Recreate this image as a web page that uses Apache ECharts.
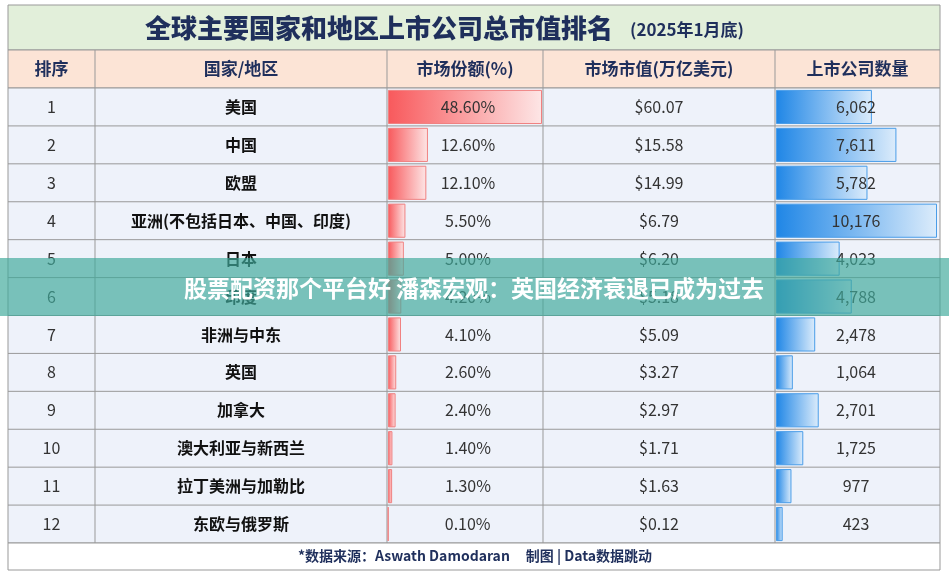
<!DOCTYPE html>
<html><head><meta charset="utf-8">
<script src="https://cdn.jsdelivr.net/npm/echarts@6/dist/echarts.min.js"></script>
<style>html,body{margin:0;padding:0;background:#fff}#c{width:949px;height:575px}</style>
</head><body><div id="c"></div>
<script>
const ranks = ['1','2','3','4','5','6','7','8','9','10','11','12'];
const regions = ['美国','中国','欧盟','亚洲(不包括日本、中国、印度)','日本','印度','非洲与中东','英国','加拿大','澳大利亚与新西兰','拉丁美洲与加勒比','东欧与俄罗斯'];
const shares = [48.6,12.6,12.1,5.5,5.0,4.2,4.1,2.6,2.4,1.4,1.3,0.1];
const caps = [60.07,15.58,14.99,6.79,6.20,5.18,5.09,3.27,2.97,1.71,1.63,0.12];
const counts = [6062,7611,5782,10176,4023,4788,2478,1064,2701,1725,977,423];
const headers = ['排序','国家/地区','市场份额(%)','市场市值(万亿美元)','上市公司数量'];

const colX = [8,95,387,543,775,940];
const tableTop = 88, tableBottom = 543, rowH = (tableBottom - tableTop) / 12;
const font = '"Noto Sans CJK SC", sans-serif';
const g = [];
g.push({type:'rect',shape:{x:colX[0],y:5,width:colX[5]-colX[0],height:45},style:{fill:'#e2efda',stroke:'#999'}});
g.push({type:'text',x:145,y:28,style:{text:'全球主要国家和地区上市公司总市值排名',fill:'#1f2f5c',font:'900 26px '+font,verticalAlign:'middle'}});
g.push({type:'text',x:630,y:30,style:{text:'(2025年1月底)',fill:'#1f2f5c',font:'bold 17px '+font,verticalAlign:'middle'}});
g.push({type:'rect',shape:{x:colX[0],y:50,width:colX[5]-colX[0],height:tableTop-50},style:{fill:'#fce4d6',stroke:'#999'}});
g.push({type:'rect',shape:{x:colX[0],y:tableTop,width:colX[5]-colX[0],height:tableBottom-tableTop},style:{fill:'#eef2fa',stroke:'#999'}});
g.push({type:'rect',shape:{x:colX[0],y:tableBottom,width:colX[5]-colX[0],height:27},style:{fill:'#fff',stroke:'#999'}});
headers.forEach((h,i)=>{
  const cx=(colX[i]+colX[i+1])/2;
  g.push({type:'text',x:cx,y:69,style:{text:h,fill:'#1f2f5c',font:'bold 17px '+font,align:'center',verticalAlign:'middle'}});
});
for(let i=1;i<5;i++) g.push({type:'line',shape:{x1:colX[i],y1:50,x2:colX[i],y2:tableBottom},style:{stroke:'#999',lineWidth:1}});
ranks.forEach((r,i)=>{
  const cy=tableTop+rowH*(i+0.5);
  if(i>0) g.push({type:'line',shape:{x1:colX[0],y1:tableTop+rowH*i,x2:colX[5],y2:tableTop+rowH*i},style:{stroke:'#999',lineWidth:1}});
  g.push({type:'text',x:(colX[0]+colX[1])/2,y:cy,style:{text:r,fill:'#333',font:'16px '+font,align:'center',verticalAlign:'middle'}});
  g.push({type:'text',x:(colX[1]+colX[2])/2,y:cy,style:{text:regions[i],fill:'#111',font:'bold 16px '+font,align:'center',verticalAlign:'middle'}});
  g.push({type:'text',x:(colX[3]+colX[4])/2,y:cy,style:{text:'$'+caps[i].toFixed(2),fill:'#333',font:'16px '+font,align:'center',verticalAlign:'middle'},z:5});
});
g.push({type:'text',x:475,y:556,style:{text:'*数据来源：Aswath Damodaran     制图 | Data数据跳动',fill:'#1f2f5c',font:'bold 14px '+font,align:'center',verticalAlign:'middle'}});
g.push({type:'rect',shape:{x:0,y:258,width:949,height:58},style:{fill:'rgba(64,170,155,0.68)'},z:50});
g.push({type:'text',x:474,y:288,style:{text:'股票配资那个平台好 潘森宏观：英国经济衰退已成为过去',fill:'#fff',font:'bold 23px '+font,align:'center',verticalAlign:'middle'},z:51});

const chart = echarts.init(document.getElementById('c'));
const yCat = idx => ({type:'category',gridIndex:idx,data:ranks,inverse:true,show:false});
chart.setOption({
  animation:false,
  graphic:{elements:g},
  grid:[
    {left:colX[2]+1,width:colX[3]-colX[2]-2,top:tableTop,height:tableBottom-tableTop},
    {left:colX[4]+1,width:colX[5]-colX[4]-4,top:tableTop,height:tableBottom-tableTop}
  ],
  xAxis:[
    {type:'value',gridIndex:0,min:0,max:48.6,show:false},
    {type:'value',gridIndex:1,min:0,max:10176,show:false}
  ],
  yAxis:[yCat(0),yCat(1)],
  series:[
    {type:'bar',xAxisIndex:0,yAxisIndex:0,data:shares,barCategoryGap:'10%',z:3,
     itemStyle:{color:new echarts.graphic.LinearGradient(0,0,1,0,[{offset:0,color:'#f8595c'},{offset:1,color:'#fde6e6'}]),borderColor:'#f08080',borderWidth:1},
     label:{show:true,position:'insideLeft',
       formatter:p=>'{a|'+p.value.toFixed(2)+'%}',rich:{a:{width:150,align:'center',fontSize:16,color:'#333',fontFamily:'Noto Sans CJK SC'}}}},
    {type:'bar',xAxisIndex:1,yAxisIndex:1,data:counts,barCategoryGap:'10%',z:3,
     itemStyle:{color:new echarts.graphic.LinearGradient(0,0,1,0,[{offset:0,color:'#1f86e6'},{offset:1,color:'#dcecfb'}]),borderColor:'#4a9de8',borderWidth:1},
     label:{show:true,position:'insideLeft',
       formatter:p=>'{a|'+p.value.toLocaleString('en-US')+'}',rich:{a:{width:150,align:'center',fontSize:16,color:'#333',fontFamily:'Noto Sans CJK SC'}}}}
  ]
});
window.addEventListener('resize',()=>chart.resize());
</script></body></html>
